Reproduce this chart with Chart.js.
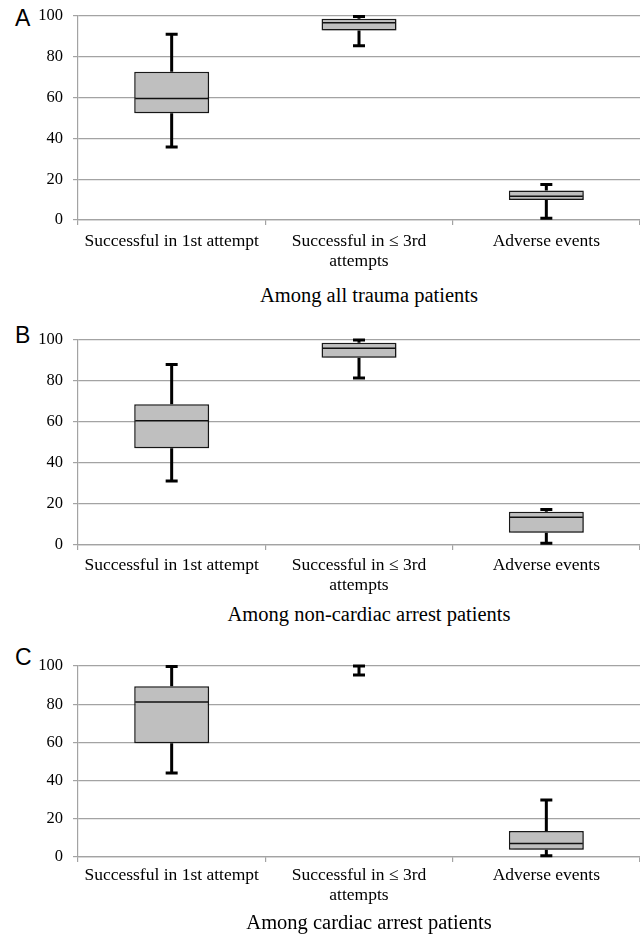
<!DOCTYPE html>
<html>
<head>
<meta charset="utf-8">
<script src="https://cdn.jsdelivr.net/npm/chart.js@4.4.1/dist/chart.umd.min.js"></script>
<style>
    body { margin: 0; background: #fff; width: 640px; height: 939px; position: relative; overflow: hidden; }
    .panel { position: absolute; left: 0; width: 640px; }
    .letter { position: absolute; left: 15px; font-family: "Liberation Sans", Arial, sans-serif; font-size: 23px; line-height: 23px; color: #000; }
    .title { position: absolute; left: 169px; width: 400px; text-align: center; font-family: "Liberation Serif", "Times New Roman", serif; font-size: 20.5px; line-height: 24px; color: #000; white-space: nowrap; }
</style>
</head>
<body>

<div class="letter" style="top:7px">A</div>
<div class="panel" style="top:0px;height:275px"><canvas id="chartA"></canvas></div>
<div class="title" style="top:283px">Among all trauma patients</div>

<div class="letter" style="top:324px">B</div>
<div class="panel" style="top:324px;height:276px"><canvas id="chartB"></canvas></div>
<div class="title" style="top:602px">Among non-cardiac arrest patients</div>

<div class="letter" style="top:646px">C</div>
<div class="panel" style="top:650px;height:262px"><canvas id="chartC"></canvas></div>
<div class="title" style="top:910px">Among cardiac arrest patients</div>

<script>
// categories and tick values
const categories = [['Successful in 1st attempt'], ['Successful in \u2264 3rd', 'attempts'], ['Adverse events']];
const yTicks = [0, 20, 40, 60, 80, 100];

// A - all trauma patients
const minA = [35.8, 85.4, 0.8];
const q1A = [52.3, 92.9, 9.8];
const medA = [59.5, 96.7, 11.6];
const q3A = [72.7, 98.7, 14.5];
const maxA = [91.0, 99.8, 17.4];

// B - non-cardiac arrest patients
const minB = [31.2, 81.5, 0.8];
const q1B = [47.2, 91.4, 6.0];
const medB = [60.6, 96.0, 13.5];
const q3B = [68.6, 98.7, 16.2];
const maxB = [88.1, 100, 17.3];

// C - cardiac arrest patients
const minC = [44.0, 95.3, 0.7];
const q1C = [59.5, 100, 3.8];
const medC = [81.1, 100, 7.1];
const q3C = [89.4, 100, 13.6];
const maxC = [99.7, 100, 29.9];

const serif = "'Liberation Serif', 'Times New Roman', serif";
const gridGray = '#a3a3a3';

Chart.defaults.font.family = serif;
Chart.defaults.color = '#000';

// whiskers under the boxes, medians on top
const boxWhiskers = {
    id: 'boxWhiskers',
    beforeDatasetsDraw(chart, args, opts) {
        const { ctx, scales: { x, y } } = chart;
        ctx.save();
        ctx.strokeStyle = '#000';
        ctx.lineWidth = 3;
        ctx.lineCap = 'butt';
        opts.min.forEach((lo, i) => {
            const cx = x.getPixelForValue(i);
            const hi = opts.max[i];
            ctx.beginPath();
            if (lo < opts.q1[i]) {
                ctx.moveTo(cx, y.getPixelForValue(lo));
                ctx.lineTo(cx, y.getPixelForValue(opts.q1[i]));
            }
            if (hi > opts.q3[i]) {
                ctx.moveTo(cx, y.getPixelForValue(opts.q3[i]));
                ctx.lineTo(cx, y.getPixelForValue(hi));
            }
            [lo, hi].forEach((v) => {
                const py = y.getPixelForValue(v);
                ctx.moveTo(cx - 6, py);
                ctx.lineTo(cx + 6, py);
            });
            ctx.stroke();
        });
        ctx.restore();
    },
    beforeDatasetDraw(chart) {
        const ctx = chart.ctx;
        ctx.save();
        ctx.shadowColor = 'rgba(0,0,0,0.35)';
        ctx.shadowBlur = 3;
        ctx.shadowOffsetX = 1.5;
        ctx.shadowOffsetY = 1.5;
    },
    afterDatasetDraw(chart) {
        chart.ctx.restore();
    },
    afterDatasetsDraw(chart, args, opts) {
        const { ctx, scales: { y } } = chart;
        const bars = chart.getDatasetMeta(0).data;
        ctx.save();
        ctx.strokeStyle = '#111';
        ctx.lineWidth = 1.5;
        opts.med.forEach((m, i) => {
            if (opts.q3[i] <= opts.q1[i]) return;
            const bar = bars[i];
            const py = y.getPixelForValue(m);
            ctx.beginPath();
            ctx.moveTo(bar.x - bar.width / 2 + 1, py);
            ctx.lineTo(bar.x + bar.width / 2 - 1, py);
            ctx.stroke();
        });
        ctx.restore();
    },
};

function makePanel(id, lo, q1, med, q3, hi, labelPad) {
    const ctx = document.getElementById(id).getContext('2d');
    return new Chart(ctx, {
        type: 'bar',
        data: {
            labels: categories,
            datasets: [
                {
                    data: q1.map((v, i) => [v, q3[i]]),
                    backgroundColor: '#bfbfbf',
                    borderColor: '#1a1a1a',
                    borderWidth: 1.5,
                    borderSkipped: false,
                    categoryPercentage: 1.0,
                    barPercentage: 0.4,
                },
            ],
        },
        options: {
            responsive: true,
            maintainAspectRatio: false,
            animation: false,
            layout: { padding: { top: 16, right: 0, bottom: 0, left: 0 } },
            plugins: {
                legend: { display: false },
                tooltip: { enabled: false },
                boxWhiskers: { min: lo, q1: q1, med: med, q3: q3, max: hi },
            },
            scales: {
                x: {
                    afterFit: (s) => { s.height = 55; s.paddingLeft = 0; s.paddingRight = 0; },
                    grid: { drawOnChartArea: false, tickLength: 5, color: gridGray, lineWidth: 1.2 },
                    border: { color: gridGray, width: 1.2 },
                    ticks: {
                        color: '#000',
                        padding: labelPad,
                        maxRotation: 0,
                        font: { family: serif, size: 17.5, lineHeight: 1.13 },
                    },
                },
                y: {
                    min: 0,
                    max: 100,
                    afterFit: (s) => { s.width = 78; s.paddingTop = 0; s.paddingBottom = 0; },
                    afterBuildTicks: (s) => { s.ticks = yTicks.map((v) => ({ value: v })); },
                    grid: { tickLength: 5, color: gridGray, lineWidth: 1.2 },
                    border: { color: gridGray, width: 1.2 },
                    ticks: {
                        color: '#000',
                        padding: 10,
                        font: { family: serif, size: 16.5 },
                    },
                },
            },
        },
        plugins: [boxWhiskers],
    });
}

makePanel('chartA', minA, q1A, medA, q3A, maxA, 7);
makePanel('chartB', minB, q1B, medB, q3B, maxB, 6);
makePanel('chartC', minC, q1C, medC, q3C, maxC, 4);
</script>
</body>
</html>
